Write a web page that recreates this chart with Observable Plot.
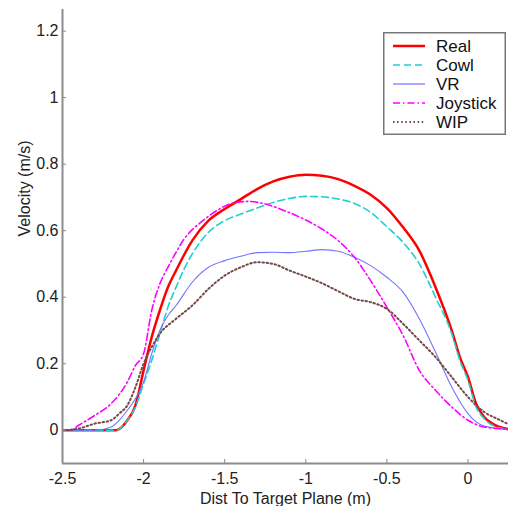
<!DOCTYPE html>
<html>
<head>
<meta charset="utf-8">
<script src="https://cdn.jsdelivr.net/npm/d3@7"></script>
<script src="https://cdn.jsdelivr.net/npm/@observablehq/plot@0.6"></script>
<style>
  html, body { margin: 0; padding: 0; background: #fff; }
  #wrap { position: relative; width: 508px; height: 506px; }
  #legend { position: absolute; left: 383px; top: 32px; }
</style>
</head>
<body>
<div id="wrap"></div>
<script>
const seriesNames = ["Real", "Cowl", "VR", "Joystick", "WIP"];
const xTicks = [-2.5, -2, -1.5, -1, -0.5, 0];
const yTicks = [0, 0.2, 0.4, 0.6, 0.8, 1, 1.2];

const real = [[-2.5,0],[-2.17,0],[-2.1,0.03],[-2.05,0.075],[-2.0,0.18],[-1.95,0.28],[-1.9,0.36],[-1.85,0.43],[-1.8,0.48],[-1.7,0.57],[-1.6,0.63],[-1.5,0.665],[-1.4,0.695],[-1.3,0.725],[-1.2,0.748],[-1.1,0.762],[-1.0,0.768],[-0.9,0.765],[-0.8,0.755],[-0.7,0.735],[-0.6,0.708],[-0.5,0.668],[-0.4,0.61],[-0.3,0.54],[-0.2,0.43],[-0.1,0.3],[-0.05,0.22],[0,0.16],[0.05,0.08],[0.1,0.04],[0.15,0.02],[0.25,0.003]];
const cowl = [[-2.5,0],[-2.17,0],[-2.1,0.03],[-2.05,0.07],[-2.0,0.14],[-1.95,0.21],[-1.9,0.29],[-1.85,0.37],[-1.8,0.43],[-1.75,0.485],[-1.7,0.53],[-1.6,0.595],[-1.5,0.63],[-1.4,0.65],[-1.3,0.668],[-1.2,0.685],[-1.1,0.697],[-1.0,0.703],[-0.9,0.702],[-0.8,0.695],[-0.7,0.682],[-0.6,0.655],[-0.5,0.612],[-0.4,0.565],[-0.3,0.5],[-0.2,0.4],[-0.1,0.29],[-0.05,0.21],[0,0.15],[0.05,0.07],[0.1,0.035],[0.15,0.015],[0.25,0.003]];
const vr = [[-2.5,0],[-2.3,0],[-2.2,0.01],[-2.15,0.03],[-2.1,0.06],[-2.05,0.095],[-2.0,0.145],[-1.95,0.23],[-1.9,0.3],[-1.85,0.345],[-1.8,0.375],[-1.7,0.445],[-1.6,0.49],[-1.5,0.51],[-1.4,0.523],[-1.3,0.534],[-1.2,0.535],[-1.1,0.534],[-1.0,0.538],[-0.9,0.543],[-0.8,0.538],[-0.7,0.52],[-0.6,0.495],[-0.5,0.46],[-0.4,0.415],[-0.3,0.335],[-0.2,0.235],[-0.1,0.13],[0,0.05],[0.05,0.025],[0.1,0.013],[0.25,0.003]];
const joystick = [[-2.5,0],[-2.45,0],[-2.4,0.015],[-2.3,0.045],[-2.2,0.08],[-2.1,0.145],[-2.05,0.195],[-2.0,0.23],[-1.95,0.36],[-1.9,0.44],[-1.85,0.49],[-1.8,0.535],[-1.75,0.575],[-1.7,0.603],[-1.65,0.624],[-1.55,0.66],[-1.45,0.683],[-1.35,0.688],[-1.25,0.68],[-1.1,0.654],[-1.0,0.632],[-0.9,0.605],[-0.8,0.57],[-0.7,0.52],[-0.6,0.45],[-0.5,0.37],[-0.4,0.285],[-0.3,0.18],[-0.2,0.12],[-0.1,0.07],[0,0.03],[0.1,0.01],[0.25,0.003]];
const wip = [[-2.5,0],[-2.4,0.005],[-2.3,0.02],[-2.2,0.03],[-2.15,0.05],[-2.1,0.075],[-2.05,0.13],[-2.0,0.2],[-1.95,0.25],[-1.9,0.29],[-1.8,0.335],[-1.7,0.375],[-1.6,0.425],[-1.5,0.465],[-1.4,0.49],[-1.3,0.505],[-1.2,0.5],[-1.1,0.48],[-1.0,0.462],[-0.9,0.442],[-0.8,0.418],[-0.7,0.395],[-0.6,0.385],[-0.5,0.365],[-0.4,0.32],[-0.3,0.27],[-0.2,0.22],[-0.1,0.16],[0,0.1],[0.1,0.055],[0.2,0.03],[0.25,0.018]];

const styles = {
  Real:     {stroke: "#ff0000", strokeWidth: 2.5, dash: null},
  Cowl:     {stroke: "#1fd0d0", strokeWidth: 1.6, dash: "7,4"},
  VR:       {stroke: "#7474ff", strokeWidth: 1.1, dash: null},
  Joystick: {stroke: "#ff00ff", strokeWidth: 1.6, dash: "7,3,1.5,3"},
  WIP:      {stroke: "#744848", strokeWidth: 2, dash: "1.5,2.6"}
};
const dataBy = {Real: real, Cowl: cowl, VR: vr, Joystick: joystick, WIP: wip};
const fmt = d => String(+d.toFixed(2));
const axisColor = "#8c8c8c";
const font = "'Liberation Sans', Arial, sans-serif";

const chart = Plot.plot({
  width: 508,
  height: 506,
  marginLeft: 62,
  marginRight: 0,
  marginTop: 9,
  marginBottom: 43,
  style: {fontFamily: font, fontSize: "16px", color: "#222", background: "#fff"},
  x: {domain: [-2.5, 0.25]},
  y: {domain: [-0.1, 1.265]},
  marks: [
    ...seriesNames.map(name => Plot.line(dataBy[name], {
      x: d => d[0], y: d => d[1],
      stroke: styles[name].stroke,
      strokeWidth: styles[name].strokeWidth,
      strokeDasharray: styles[name].dash,
      curve: "monotone-x",
      clip: true
    })),
    Plot.axisX(xTicks, {tickSize: -4, tickPadding: 13, tickFormat: fmt, stroke: axisColor, fill: "#222", label: null}),
    Plot.axisY(yTicks, {tickSize: -4, tickPadding: 8, tickFormat: fmt, stroke: axisColor, fill: "#222", label: null}),
    Plot.ruleX([-2.5], {stroke: axisColor, strokeWidth: 2}),
    Plot.ruleY([-0.1], {stroke: axisColor, strokeWidth: 2}),
    Plot.text(["Dist To Target Plane (m)"], {frameAnchor: "bottom", dy: 40, fill: "#222", fontSize: 16, lineAnchor: "bottom"}),
    Plot.text(["Velocity (m/s)"], {frameAnchor: "left", dx: -38, rotate: -90, fill: "#222", fontSize: 16})
  ]
});
document.getElementById("wrap").appendChild(chart);

// legend box
const lg = d3.select("#wrap").append("svg")
  .attr("id", "legend")
  .attr("width", 124).attr("height", 104)
  .style("font-family", font);
lg.append("rect").attr("x", 0.75).attr("y", 0.75).attr("width", 121.5).attr("height", 101.5)
  .attr("fill", "#fff").attr("stroke", "#777").attr("stroke-width", 1.5);
seriesNames.forEach((name, i) => {
  const cy = 14 + i * 19;
  const s = styles[name];
  lg.append("line").attr("x1", 10).attr("x2", 42).attr("y1", cy).attr("y2", cy)
    .attr("stroke", name === "VR" ? "#aaaaff" : s.stroke)
    .attr("stroke-width", name === "VR" ? 2 : s.strokeWidth)
    .attr("stroke-dasharray", s.dash);
  lg.append("text").attr("x", 53).attr("y", cy).attr("dy", "0.36em")
    .attr("font-size", 17).attr("fill", "#111").text(name);
});
</script>
</body>
</html>
